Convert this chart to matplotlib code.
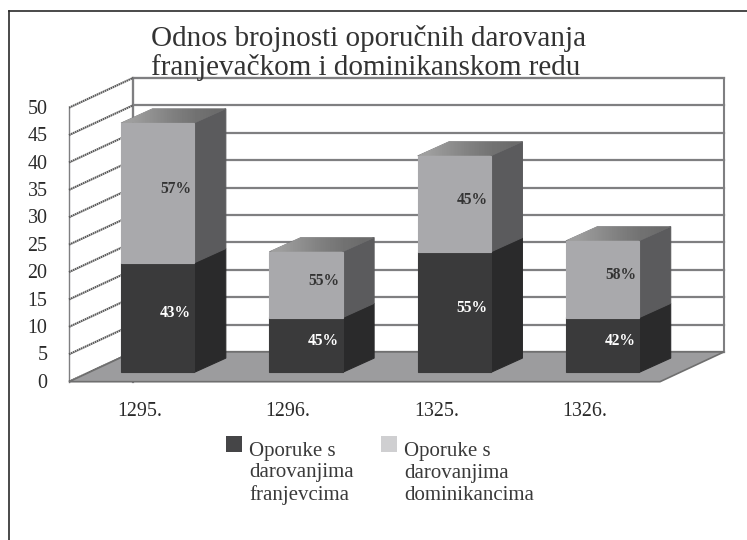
import matplotlib
matplotlib.use("Agg")
import matplotlib.pyplot as plt
import numpy as np
from matplotlib.lines import Line2D
from matplotlib.patches import Polygon, Rectangle

# values
years = ['1295.', '1296.', '1325.', '1326.']
franjevci = [20, 10, 22, 10]
dominikanci = [25.5, 12, 17.5, 14]
pct_franjevci = ['43%', '45%', '55%', '42%']
pct_dominikanci = ['57%', '55%', '45%', '58%']
y_ticks = [0, 5, 10, 15, 20, 25, 30, 35, 40, 45, 50]
title = 'Odnos brojnosti oporučnih darovanja\nfranjevačkom i dominikanskom redu'
legend_labels = ['Oporuke s\ndarovanjima\nfranjevcima', 'Oporuke s\ndarovanjima\ndominikancima']

W, H = 747, 540
# scale of the chart in pixels
PX_CAT = 148.3
PX_UNIT = 5.48
X0_PX = 157.7     # centre of the first bar
Y0_PX = 381.7     # value 0 on the front edge

plt.rcParams['font.family'] = 'Liberation Serif'
fig = plt.figure(figsize=(W / 100, H / 100), dpi=100)
ax = fig.add_axes([0, 0, 1, 1])
xlim = (-X0_PX / PX_CAT, (W - X0_PX) / PX_CAT)
ylim = ((Y0_PX - H) / PX_UNIT, Y0_PX / PX_UNIT)
ax.set_xlim(xlim)
ax.set_ylim(ylim)
ax.set_axis_off()

# 3d offsets in data units
wall_dx = 64 / PX_CAT
wall_dy = 29.8 / PX_UNIT
bar_w = 73.4 / PX_CAT
bar_dx = 31.4 / PX_CAT
bar_dy = 14.2 / PX_UNIT
bar_base = 9.4 / PX_UNIT
front_left = (69 - X0_PX) / PX_CAT
front_right = (660 - X0_PX) / PX_CAT
top = y_ticks[-1]

grid_c = '#7f7f81'

# outer frame, only top and left are in the picture
fig.add_artist(Line2D([8.5 / W, 8.5 / W], [0, 1 - 11 / H], color='#2a2a2a', lw=1.2))
fig.add_artist(Line2D([8.5 / W, 1], [1 - 11 / H, 1 - 11 / H], color='#2a2a2a', lw=1.2))

# back and side walls
ax.add_patch(Polygon([(front_left + wall_dx, wall_dy), (front_right + wall_dx, wall_dy),
                      (front_right + wall_dx, top + wall_dy), (front_left + wall_dx, top + wall_dy)],
                     fc='white', ec=grid_c, lw=1.5, zorder=1))
ax.plot([front_left, front_left], [0, top], color=grid_c, lw=1.0, zorder=2)
ax.plot([front_left + wall_dx, front_left + wall_dx], [0, top + wall_dy], color=grid_c, lw=1.6, zorder=2)
for t in y_ticks:
    ax.plot([front_left + wall_dx, front_right + wall_dx], [t + wall_dy, t + wall_dy],
            color=grid_c, lw=1.6, zorder=2)
    ax.plot([front_left, front_left + wall_dx], [t, t + wall_dy], color='#5a5a5a', lw=1.5,
            ls=(0, (0.8, 0.25)), zorder=2)
    ax.text(front_left - 21.5 / PX_CAT, t - 0.3, str(t), ha='right', va='center', fontsize=14.4, color='#2a2a2a')

# floor
ax.add_patch(Polygon([(front_left, 0), (front_right, 0), (front_right + wall_dx, wall_dy),
                      (front_left + wall_dx, wall_dy)], fc='#9c9c9e', ec='#6f6f6f', lw=1.2, zorder=3))

# grey ramp for the top faces
ramp = np.array([[0.62, 0.56, 0.50, 0.45, 0.42]])


def draw_box(x, y0, h, front, side, with_top=False, z=4):
    xl = x - bar_w / 2
    xr = x + bar_w / 2
    ax.add_patch(Polygon([(xr, y0), (xr + bar_dx, y0 + bar_dy), (xr + bar_dx, y0 + h + bar_dy), (xr, y0 + h)],
                         fc=side, ec=side, lw=0.8, zorder=z))
    ax.bar(x, h, bar_w, bottom=y0, color=front, edgecolor=front, lw=0.8, zorder=z + 0.1)
    if with_top:
        face = Polygon([(xl, y0 + h), (xr, y0 + h), (xr + bar_dx, y0 + h + bar_dy),
                        (xl + bar_dx, y0 + h + bar_dy)], fc='none', ec='#6e6e70', lw=0.5, zorder=z)
        ax.add_patch(face)
        im = ax.imshow(ramp, cmap='gray', vmin=0, vmax=1, aspect='auto', interpolation='bilinear',
                       extent=(xl, xr + bar_dx, y0 + h, y0 + h + bar_dy), zorder=z)
        im.set_clip_path(face)


for i in range(len(years)):
    draw_box(i, bar_base, franjevci[i], '#3a3a3b', '#2a2a2b')
    draw_box(i, bar_base + franjevci[i], dominikanci[i], '#a9a9ac', '#5b5b5d', with_top=True, z=4.5)
    ax.text(i + 0.12, bar_base + franjevci[i] / 2 + 0.75, pct_franjevci[i], ha='center', va='center',
            fontsize=11.2, fontweight='bold', color='white', zorder=6)
    ax.text(i + 0.12, bar_base + franjevci[i] + dominikanci[i] / 2 + 0.75, pct_dominikanci[i], ha='center',
            va='center', fontsize=11.2, fontweight='bold', color='#333333', zorder=6)
    ax.text(i - 0.12, -(411 - Y0_PX) / PX_UNIT, years[i], ha='center', va='center', fontsize=14.4, color='#2a2a2a')

ax.set_xlim(xlim)
ax.set_ylim(ylim)

# title
fig.text(151 / W, 1 - 53 / H, title, ha='left', va='center', fontsize=21, color='#333333', linespacing=1.1)

# legend
for lx, c, label in zip([225.7, 381], ['#454547', '#cfcfd1'], legend_labels):
    fig.add_artist(Rectangle((lx / W, 1 - 452 / H), 16 / W, 16 / H, transform=fig.transFigure, fc=c, ec='none'))
    fig.text((lx + 23.5) / W, 1 - 473.5 / H, label, ha='left', va='center', fontsize=15, color='#3a3a3a',
             linespacing=1.2)

fig.savefig('out.png', dpi=100)
